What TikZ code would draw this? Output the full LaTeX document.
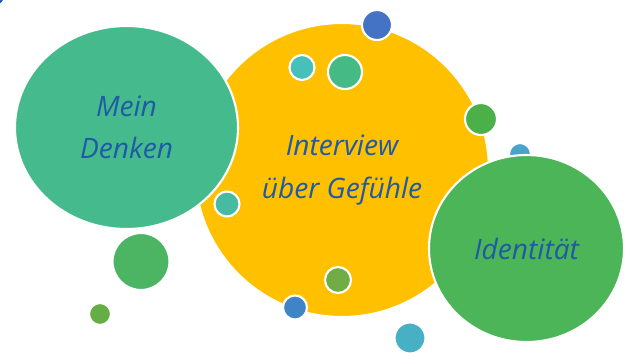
\documentclass[tikz,border=0pt]{standalone}
\usepackage{fontspec}
\usetikzlibrary{shapes}
\usepackage{xcolor}
\newfontfamily\bubblefont{Open Sans}
\definecolor{textblau}{HTML}{1F5AA6}
\definecolor{gelb}{HTML}{FFC000}
\definecolor{denkgruen}{HTML}{45BB8D}
\definecolor{identgruen}{HTML}{4BB557}
\definecolor{eckblau}{HTML}{1F5FBF}

\begin{document}
\begin{tikzpicture}[x=0.025cm,y=-0.025cm]
    \def\u{0.025cm}
    \tikzset{bubble/.style={draw=white,line width=1.5pt,inner sep=0pt,
                    text=textblau,align=center,
                    font=\bubblefont\itshape\fontsize{20}{30}\selectfont}}
    \useasboundingbox (0,0) rectangle (627,356);
    \fill[eckblau] (-5,-4) circle [radius=9];
    \node[bubble,circle,fill=gelb,minimum size=294*\u] (gefuehle) at (342,170)
        {Interview\\über Gefühle};
    \node[bubble,ellipse,fill=denkgruen,minimum width=223*\u,minimum height=203*\u]
        (denken) at (126.5,127.5) {Mein\\Denken};
    \foreach \x/\y/\r/\c in {377/25/15/4472C4, 302/67.5/12.5/46C0B8, 345/72/17/45BA85,
                             481/119/16/4CB04A, 227/204/12.5/46BBA2, 141/261.5/28.5/4BB563,
                             100/314/11/65AD45, 338/280/13/70AD47, 295/307.5/12/3F84C5,
                             410/338/15.5/48B0C4, 520/154/11/4AA3CA}{
        \definecolor{punkt}{HTML}{\c}
        \filldraw[draw=white,line width=1.5pt,fill=punkt] (\x,\y) circle [radius=\r];
    }
    \node[bubble,ellipse,fill=identgruen,minimum width=195*\u,minimum height=187*\u]
        (identitaet) at (526.5,248.5) {Identität};
\end{tikzpicture}
\end{document}
